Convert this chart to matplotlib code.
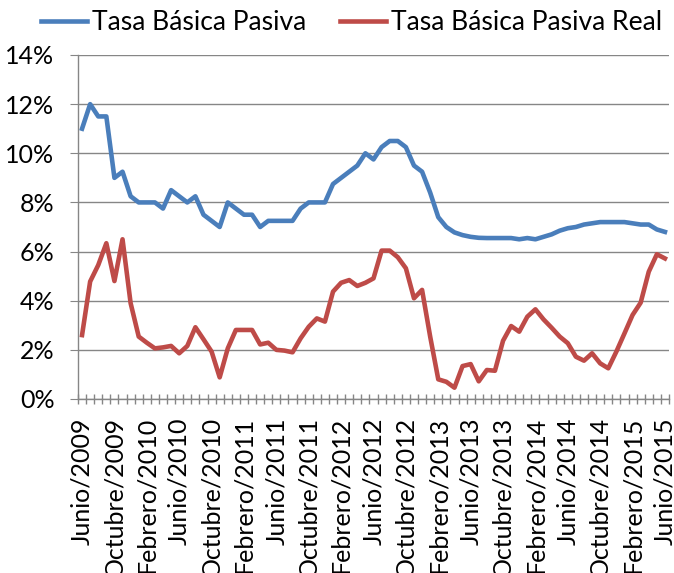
import matplotlib
matplotlib.use("Agg")
import matplotlib.pyplot as plt
from matplotlib.ticker import FixedLocator, PercentFormatter


# ========================
# DATOS
# ========================

etiquetas = []
for anio in range(2009, 2016):
    for mes in ["Febrero", "Junio", "Octubre"]:
        etiquetas.append(f"{mes}/{anio}")
etiquetas = etiquetas[1:-1]  # de Junio/2009 a Junio/2015

tasa_basica = [
    11.0, 12.0, 11.5, 11.5, 9.0, 9.25, 8.25, 8.0, 8.0, 8.0,
    7.75, 8.5, 8.25, 8.0, 8.25, 7.5, 7.25, 7.0, 8.0, 7.75,
    7.5, 7.5, 7.0, 7.25, 7.25, 7.25, 7.25, 7.75, 8.0, 8.0,
    8.0, 8.75, 9.0, 9.25, 9.5, 10.0, 9.75, 10.25, 10.5, 10.5,
    10.25, 9.5, 9.25, 8.4, 7.4, 7.0, 6.78, 6.67, 6.6, 6.56,
    6.55, 6.55, 6.55, 6.55, 6.5, 6.55, 6.5, 6.6, 6.7, 6.85,
    6.95, 7.0, 7.1, 7.15, 7.2, 7.2, 7.2, 7.2, 7.15, 7.1,
    7.1, 6.9, 6.8,
]

tasa_real = [
    2.6, 4.78, 5.45, 6.34, 4.8, 6.5, 3.9, 2.54, 2.29, 2.06,
    2.1, 2.16, 1.86, 2.16, 2.92, 2.43, 1.93, 0.88, 2.06, 2.81,
    2.81, 2.81, 2.22, 2.29, 2.0, 1.97, 1.9, 2.47, 2.94, 3.28,
    3.15, 4.37, 4.73, 4.84, 4.6, 4.73, 4.91, 6.04, 6.04, 5.77,
    5.32, 4.1, 4.44, 2.54, 0.8, 0.7, 0.46, 1.34, 1.42, 0.72,
    1.18, 1.15, 2.37, 2.97, 2.74, 3.35, 3.65, 3.24, 2.9, 2.54,
    2.27, 1.72, 1.56, 1.86, 1.45, 1.25, 1.93, 2.67, 3.42, 3.92,
    5.18, 5.89, 5.72,
]

# ========================
# GRAFICO
# ========================

plt.rcParams["font.family"] = ["Lato", "DejaVu Sans"]

fig = plt.figure(figsize=(6.74, 5.73), dpi=100)
ax = fig.add_axes([78 / 674, 1 - 399 / 573, (669 - 78) / 674, (399 - 55) / 573])

x = list(range(len(tasa_basica)))
ax.plot(x, tasa_basica, color="#4A7EBB", lw=3.3, label="Tasa Básica Pasiva",
        solid_joinstyle="round")
ax.plot(x, tasa_real, color="#BE4B48", lw=3.3, label="Tasa Básica Pasiva Real",
        solid_joinstyle="round")

ax.set_xlim(-0.5, len(x) - 0.5)
ax.set_ylim(0, 14)
ax.set_yticks(range(0, 15, 2))
ax.yaxis.set_major_formatter(PercentFormatter(decimals=0))
ax.grid(axis="y", color="#868686", lw=1)
ax.set_axisbelow(True)

ax.set_xticks(range(0, len(x), 4))
ax.set_xticklabels(etiquetas, rotation=90, ha="center", va="top")
ax.xaxis.set_minor_locator(FixedLocator([i - 0.5 for i in range(len(x) + 1)]))
ax.tick_params(axis="x", which="major", length=0, pad=13, labelsize=18)
ax.tick_params(axis="x", which="minor", length=7, direction="inout",
               color="#868686", width=1)
ax.tick_params(axis="y", length=6, color="#868686", labelsize=18, pad=11)

for lado in ["top", "right"]:
    ax.spines[lado].set_visible(False)
for lado in ["left", "bottom"]:
    ax.spines[lado].set_color("#868686")
    ax.spines[lado].set_linewidth(1)

fig.legend(loc="upper left", bbox_to_anchor=(22 / 674, 1.015), ncol=2,
           frameon=False, fontsize=19.1, handlelength=1.75, handletextpad=0.2,
           columnspacing=1.25, borderpad=0.2)

fig.savefig("out.png", dpi=100)
